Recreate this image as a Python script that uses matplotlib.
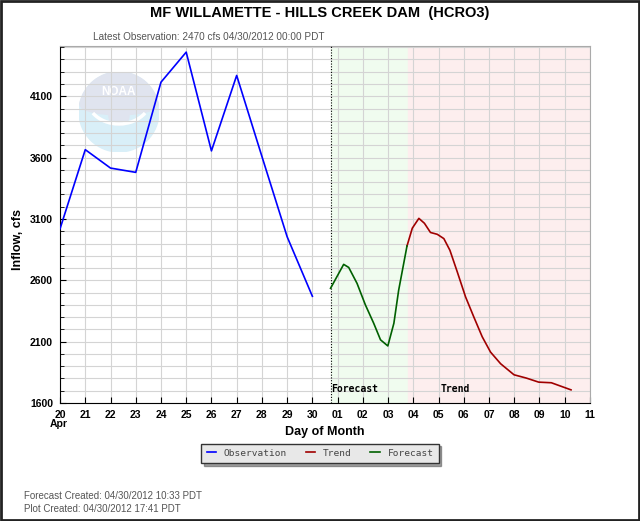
import matplotlib
matplotlib.use("Agg")
import matplotlib.pyplot as plt
from matplotlib.patches import Circle, Ellipse, Rectangle, Wedge, Arc
from matplotlib.ticker import MultipleLocator, FixedLocator

# days since Apr 20 00:00
obs_days = [0, 1, 2, 3, 4, 5, 6, 7, 8, 9, 10]
obs_vals = [3020, 3665, 3515, 3480, 4215, 4460, 3655, 4270, 3610, 2955, 2470]

fcst_days = [10.72, 11.24, 11.44, 11.77, 12.10, 12.43, 12.70, 12.99, 13.23, 13.42, 13.75]
fcst_vals = [2535, 2730, 2705, 2575, 2400, 2250, 2115, 2065, 2250, 2520, 2880]

trend_days = [13.75, 13.96, 14.22, 14.44, 14.68, 14.95, 15.21, 15.45, 15.74, 16.07, 16.40,
              16.73, 17.06, 17.46, 17.99, 18.48, 18.97, 19.47, 20.25]
trend_vals = [2880, 3025, 3105, 3065, 2990, 2975, 2940, 2845, 2670, 2465, 2300,
              2140, 2015, 1920, 1830, 1803, 1770, 1765, 1707]

tick_labels = ["20", "21", "22", "23", "24", "25", "26", "27", "28", "29", "30",
               "01", "02", "03", "04", "05", "06", "07", "08", "09", "10", "11"]

fcst_start = 10.72
trend_start = 13.77
xmax = 21

fig = plt.figure(figsize=(6.4, 5.21), dpi=100)
fig.patch.set_facecolor("white")

# faded NOAA logo behind the plot area
lax = fig.add_axes([0.1234, 0.7083, 0.125, 0.1536], zorder=-1)
lax.set_xlim(-1, 1)
lax.set_ylim(-1, 1)
lax.set_aspect("equal")
lax.axis("off")
lax.add_patch(Circle((0, 0), 1, color="#d9eff8"))
lax.add_patch(Wedge((0, 0), 1, 12, 168, color="#e0e4ef"))
lax.add_patch(Ellipse((0, 0.18), 1.95, 0.5, color="#e0e4ef"))
lax.add_patch(Ellipse((0, -0.1), 0.5, 0.45, color="#e0e4ef"))
lax.add_patch(Arc((0, 0.35), 1.6, 1.3, theta1=210, theta2=330, color="white", lw=2.5))
lax.text(0, 0.5, "NOAA", color="white", fontsize=8.5, fontweight="bold",
         ha="center", va="center", family="Liberation Sans")

ax = fig.add_axes([0.0938, 0.2265, 0.828, 0.6852])
ax.set_facecolor("none")

ax.axvspan(fcst_start, trend_start, color="#f0fcef", zorder=0.1)
ax.axvspan(trend_start, xmax, color="#fdeeee", zorder=0.1)
ax.axvline(fcst_start, color="black", ls=(0, (1, 1.5)), lw=0.8, zorder=3)

ax.plot(obs_days, obs_vals, color="#0000ff", lw=1.2, zorder=4, label="Observation")
ax.plot(trend_days, trend_vals, color="#a00000", lw=1.2, zorder=4, label="Trend")
ax.plot(fcst_days, fcst_vals, color="#006000", lw=1.2, zorder=4, label="Forecast")

ax.set_xlim(0, xmax)
ax.set_ylim(1600, 4510)
ax.xaxis.set_major_locator(FixedLocator(range(len(tick_labels))))
ax.set_xticklabels(tick_labels)
ax.yaxis.set_minor_locator(MultipleLocator(100))
ax.set_yticks([1600, 2100, 2600, 3100, 3600, 4100])

ax.grid(True, which="major", axis="x", color="#d4d4d4", lw=0.8)
ax.grid(True, which="both", axis="y", color="#d4d4d4", lw=0.8)
ax.set_axisbelow(True)

ax.tick_params(axis="both", which="both", direction="in", labelsize=7.5, pad=5)
ax.tick_params(axis="y", which="major", length=4)
ax.tick_params(axis="y", which="minor", length=3)
ax.tick_params(axis="x", which="major", length=4)
for lab in ax.get_xticklabels() + ax.get_yticklabels():
    lab.set_fontweight("bold")
    lab.set_family("Liberation Sans")

ax.spines["top"].set_color("#aaaaaa")
ax.spines["right"].set_color("#aaaaaa")

ax.text(10.76, 1690, "Forecast", fontsize=7, fontweight="bold", family="DejaVu Sans Mono")
ax.text(15.67, 1690, "Trend", fontsize=7, fontweight="bold", family="DejaVu Sans Mono",
        ha="center")

fig.text(0.5, 0.976, "MF WILLAMETTE - HILLS CREEK DAM  (HCRO3)", ha="center", va="center",
         fontsize=10.5, fontweight="bold", family="Liberation Sans")
fig.text(0.145, 0.929, "Latest Observation: 2470 cfs 04/30/2012 00:00 PDT", ha="left",
         va="center", fontsize=7.2, color="#555555", family="Liberation Sans")
fig.text(0.028, 0.54, "Inflow, cfs", rotation=90, ha="center", va="center",
         fontsize=9, fontweight="bold", family="Liberation Sans")
fig.text(0.078, 0.186, "Apr", ha="left", va="center", fontsize=7.5, fontweight="bold",
         family="Liberation Sans")
fig.text(0.507, 0.17, "Day of Month", ha="center", va="center", fontsize=9,
         fontweight="bold", family="Liberation Sans")
fig.text(0.037, 0.048, "Forecast Created: 04/30/2012 10:33 PDT", ha="left", va="center",
         fontsize=7, color="#555555", family="Liberation Sans")
fig.text(0.037, 0.023, "Plot Created: 04/30/2012 17:41 PDT", ha="left", va="center",
         fontsize=7, color="#555555", family="Liberation Sans")

leg = fig.legend(handles=ax.get_lines()[1:], loc="center", bbox_to_anchor=(0.5, 0.13),
                 ncol=3, fancybox=False, shadow=True, handlelength=1.0, columnspacing=2.0,
                 handletextpad=0.8, borderpad=0.55,
                 prop={"family": "DejaVu Sans Mono", "size": 6.8})
leg.get_frame().set_facecolor("#e8e8e8")
leg.get_frame().set_edgecolor("#333333")
leg.get_frame().set_alpha(1)
for t in leg.get_texts():
    t.set_color("#444444")

fig.add_artist(Rectangle((0.002, 0.002), 0.996, 0.996, transform=fig.transFigure,
                         fill=False, edgecolor="#222222", lw=2))

fig.savefig("out.png", dpi=100)
